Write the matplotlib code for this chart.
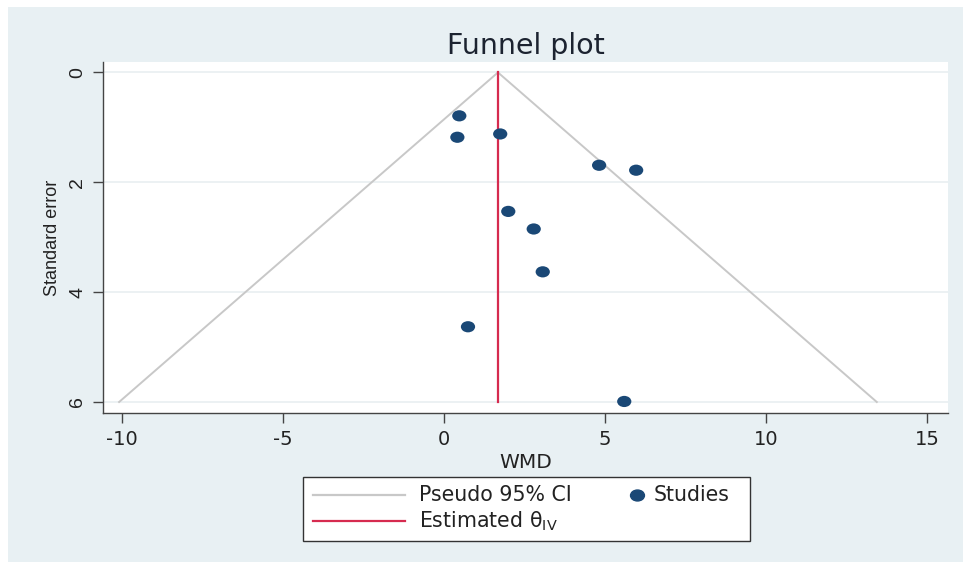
import matplotlib
matplotlib.use("Agg")
import matplotlib.pyplot as plt
from matplotlib.patches import Rectangle
from matplotlib.lines import Line2D
from matplotlib.path import Path
from matplotlib.transforms import Affine2D
import numpy as np

plt.rcParams['font.family'] = ['DejaVu Sans']

# Data
wmd = [0.48, 0.42, 1.75, 4.82, 5.97, 2.00, 2.79, 3.07, 0.75, 5.60]
se = [0.79, 1.18, 1.12, 1.69, 1.78, 2.53, 2.85, 3.63, 4.63, 5.99]
theta_iv = 1.68
se_max = 6.0
x_ticks = [-10, -5, 0, 5, 10, 15]
y_ticks = [0, 2, 4, 6]

W, H = 963, 562
bg = '#e8f0f3'
ci_color = '#c8c8c8'
est_color = '#d62b4f'
dot_color = '#1a4876'

fig = plt.figure(figsize=(W / 100, H / 100), dpi=100, facecolor='white')
fig.patches.append(Rectangle((8 / W, 0), 1 - 8 / W, 1 - 7 / H, transform=fig.transFigure,
                             facecolor=bg, edgecolor='none', zorder=-10))

def fx(px):
    return px / W

def fy(py):
    return 1 - py / H

ax = fig.add_axes([fx(103), fy(413), (948 - 103) / W, (413 - 62) / H])
ax.set_facecolor('white')

# elliptical marker (image is slightly stretched horizontally)
ell = Path.unit_circle().transformed(Affine2D().scale(1.27, 1.0))

# Pseudo 95% CI funnel
se_line = np.array([0.0, se_max])
ax.plot(theta_iv - 1.96 * se_line, se_line, color=ci_color, lw=1.4, zorder=2)
ax.plot(theta_iv + 1.96 * se_line, se_line, color=ci_color, lw=1.4, zorder=2)
# Estimated theta
ax.plot([theta_iv, theta_iv], [0, se_max], color=est_color, lw=1.6, zorder=3)
# Studies
ax.scatter(wmd, se, s=105, marker=ell, color=dot_color, zorder=4, edgecolors='none')

ax.set_xlim(-10.58, 15.65)
ax.set_ylim(6.2, -0.19)
ax.set_xticks(x_ticks)
ax.set_yticks(y_ticks)
ax.set_xticklabels([str(t) for t in x_ticks], fontsize=14)
ax.set_yticklabels([str(t) for t in y_ticks], fontsize=14, rotation=90, va='center',
                   family=['Liberation Sans', 'DejaVu Sans'])
ax.grid(axis='y', color='#eaf0f2', lw=1.3, zorder=0)
for s in ['top', 'right']:
    ax.spines[s].set_visible(False)
for s in ['left', 'bottom']:
    ax.spines[s].set_color('#444444')
    ax.spines[s].set_linewidth(1.0)
ax.tick_params(axis='both', length=7, width=1, color='#444444', labelcolor='#222222', pad=5)

ax.set_xlabel('WMD', fontsize=14.5, color='#222222', labelpad=3)
ax.set_ylabel('Standard error', fontsize=13, color='#222222', labelpad=6,
              family=['Liberation Sans', 'DejaVu Sans'])
ax.set_title('Funnel plot', fontsize=20.5, color='#1c2330', pad=6)

# Legend (drawn manually to match Stata layout)
fig.patches.append(Rectangle((fx(303), fy(541)), (750 - 303) / W, (541 - 477) / H,
                             transform=fig.transFigure, facecolor='white',
                             edgecolor='#333333', lw=1.0, zorder=5))
row1, row2 = 495, 521
fig.add_artist(Line2D([fx(313), fx(405)], [fy(row1), fy(row1)], color=ci_color, lw=1.6,
                      transform=fig.transFigure, zorder=6))
fig.add_artist(Line2D([fx(313), fx(405)], [fy(row2), fy(row2)], color=est_color, lw=1.6,
                      transform=fig.transFigure, zorder=6))
fig.add_artist(Line2D([fx(637)], [fy(row1)], marker=ell, markersize=10, lw=0,
                      color=dot_color, transform=fig.transFigure, zorder=6))
fig.text(fx(419), fy(row1), 'Pseudo 95% CI', fontsize=14.8, va='center', ha='left',
         color='#222222', zorder=7)
fig.text(fx(419), fy(row2), r'Estimated θ$_{\mathregular{IV}}$', fontsize=14.8, va='center',
         ha='left', color='#222222', zorder=7)
fig.text(fx(654), fy(row1), 'Studies', fontsize=14.8, va='center', ha='left',
         color='#222222', zorder=7)

fig.savefig('out.png', dpi=100, facecolor=fig.get_facecolor())
